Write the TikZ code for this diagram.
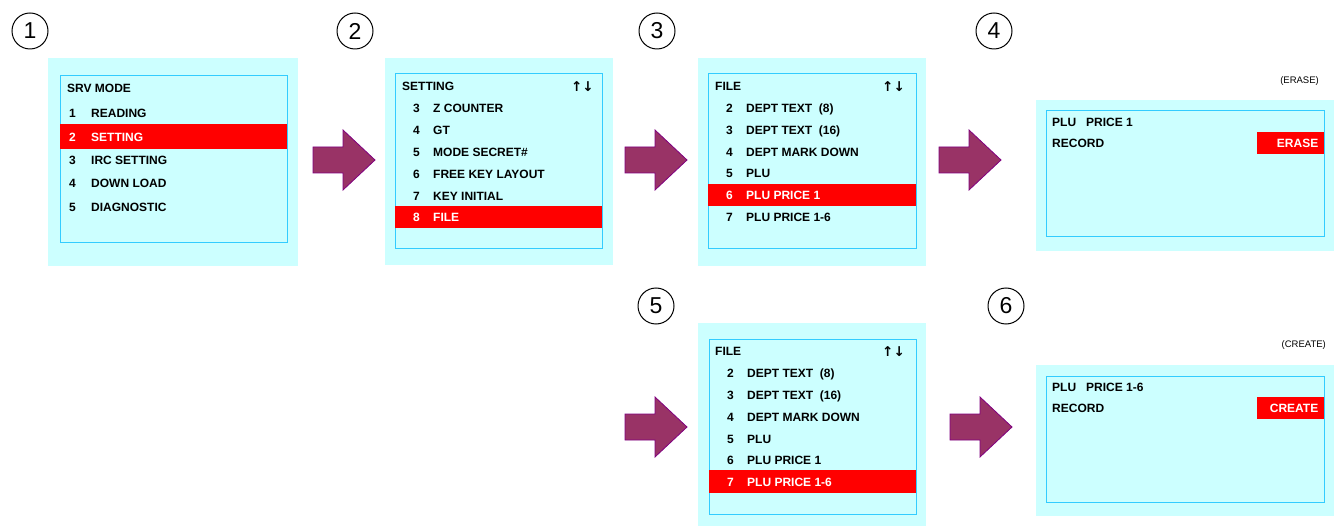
\documentclass[tikz,border=0pt]{standalone}
\usepackage{fontspec}
\setmainfont{Liberation Sans}
\newfontfamily\symfont{DejaVu Sans}
\usetikzlibrary{positioning}
\definecolor{scrbg}{HTML}{CCFFFF}
\definecolor{scrline}{HTML}{33CCFF}
\definecolor{selred}{HTML}{FF0000}
\definecolor{arrfill}{HTML}{993366}
\definecolor{arrline}{HTML}{800080}
\newcommand{\itm}[2]{\makebox[20pt][l]{#1}#2}
\tikzset{
  panel/.style={fill=scrbg, inner sep=0pt},
  screen/.style={draw=scrline, line width=1pt, fill=scrbg, inner sep=0pt},
  selbar/.style={fill=selred, inner sep=0pt},
  mtxt/.style={anchor=west, inner sep=0pt, text height=8.6pt, text depth=0pt,
               font=\bfseries\fontsize{12}{14}\selectfont},
  seltxt/.style={mtxt, text=white},
  updn/.style={anchor=east, inner sep=0pt, font=\symfont\bfseries\fontsize{13.5}{16}\selectfont},
  stepno/.style={draw, circle, line width=1pt, minimum size=36pt, inner sep=0pt,
                 font=\fontsize{23}{25}\selectfont},
  note/.style={anchor=east, inner sep=0pt, font=\fontsize{9.5}{11}\selectfont},
  btn/.style={fill=selred, text=white, anchor=east, minimum height=22pt, text width=55pt,
              align=right, inner xsep=6pt, inner ysep=0pt, font=\bfseries\fontsize{12}{14}\selectfont},
  fwdarr/.pic={\draw[fill=arrfill, draw=arrline, line width=0.8pt]
      (0,-13)--(30,-13)--(30,-30)--(62,0)--(30,30)--(30,13)--(0,13)--cycle;},
}

\begin{document}
\begin{tikzpicture}[x=1pt, y=-1pt]
  \useasboundingbox (0,0) rectangle (1340,526);

  % step numbers
  \node[stepno] (n1) at (30,31) {1};
  \node[stepno] (n2) at (355,31) {2};
  \node[stepno] (n3) at (657,31) {3};
  \node[stepno] (n4) at (994,31) {4};
  \node[stepno] (n5) at (656,306) {5};
  \node[stepno] (n6) at (1006,306) {6};

  % screen 1 - SRV MODE
  \node[panel, minimum width=250pt, minimum height=208pt] (p1) at (173,162) {};
  \node[screen, minimum width=227pt, minimum height=167pt] (s1) at (173.5,159.5) {};
  \node[selbar, minimum width=227pt, minimum height=25pt] (b1) at (173.5,136.5) {};
  \node[mtxt] (t1) at (67,88) {SRV MODE};
  \node[mtxt] (r11) at (69,113) {\makebox[22pt][l]{1}READING};
  \node[seltxt] (r12) at (69,137) {\makebox[22pt][l]{2}SETTING};
  \node[mtxt] (r13) at (69,160) {\makebox[22pt][l]{3}IRC SETTING};
  \node[mtxt] (r14) at (69,183) {\makebox[22pt][l]{4}DOWN LOAD};
  \node[mtxt] (r15) at (69,207) {\makebox[22pt][l]{5}DIAGNOSTIC};

  % screen 2 - SETTING
  \node[panel, minimum width=228pt, minimum height=207pt] (p2) at (499,161.5) {};
  \node[screen, minimum width=207pt, minimum height=175pt] (s2) at (498.5,161.5) {};
  \node[selbar, minimum width=207pt, minimum height=22pt] (b2) at (498.5,217) {};
  \node[mtxt] (t2) at (402,86) {SETTING};
  \node[updn] (u2) at (594,87) {↑↓};
  \node[mtxt] (r21) at (413,108) {\itm{3}{Z COUNTER}};
  \node[mtxt] (r22) at (413,130) {\itm{4}{GT}};
  \node[mtxt] (r23) at (413,152) {\itm{5}{MODE SECRET\#}};
  \node[mtxt] (r24) at (413,174) {\itm{6}{FREE KEY LAYOUT}};
  \node[mtxt] (r25) at (413,196) {\itm{7}{KEY INITIAL}};
  \node[seltxt] (r26) at (413,217) {\itm{8}{FILE}};

  % screen 3 - FILE
  \node[panel, minimum width=228pt, minimum height=208pt] (p3) at (812,162) {};
  \node[screen, minimum width=208pt, minimum height=175pt] (s3) at (812,161.5) {};
  \node[selbar, minimum width=208pt, minimum height=22pt] (b3) at (812,195) {};
  \node[mtxt] (t3) at (715,86) {FILE};
  \node[updn] (u3) at (905,87) {↑↓};
  \node[mtxt] (r31) at (726,108) {\itm{2}{DEPT TEXT\ \ (8)}};
  \node[mtxt] (r32) at (726,130) {\itm{3}{DEPT TEXT\ \ (16)}};
  \node[mtxt] (r33) at (726,152) {\itm{4}{DEPT MARK DOWN}};
  \node[mtxt] (r34) at (726,173) {\itm{5}{PLU}};
  \node[seltxt] (r35) at (726,195) {\itm{6}{PLU PRICE 1}};
  \node[mtxt] (r36) at (726,217) {\itm{7}{PLU PRICE 1-6}};

  % screen 4 - erase
  \node[note] (e4) at (1319,81) {(ERASE)};
  \node[panel, minimum width=298pt, minimum height=151pt] (p4) at (1185,175.5) {};
  \node[screen, minimum width=278pt, minimum height=126pt] (s4) at (1185,174) {};
  \node[mtxt] (r41) at (1052,122) {PLU\hspace{10pt}PRICE 1};
  \node[mtxt] (r42) at (1052,143) {RECORD};
  \node[btn] (k4) at (s4.east |- r42) {ERASE};

  % screen 5 - FILE
  \node[panel, minimum width=228pt, minimum height=203pt] (p5) at (812,424.5) {};
  \node[screen, minimum width=207pt, minimum height=175pt] (s5) at (812.5,426.5) {};
  \node[selbar, minimum width=207pt, minimum height=23pt] (b5) at (812.5,481.5) {};
  \node[mtxt] (t5) at (715,351) {FILE};
  \node[updn] (u5) at (905,352) {↑↓};
  \node[mtxt] (r51) at (727,373) {\itm{2}{DEPT TEXT\ \ (8)}};
  \node[mtxt] (r52) at (727,395) {\itm{3}{DEPT TEXT\ \ (16)}};
  \node[mtxt] (r53) at (727,417) {\itm{4}{DEPT MARK DOWN}};
  \node[mtxt] (r54) at (727,439) {\itm{5}{PLU}};
  \node[mtxt] (r55) at (727,460) {\itm{6}{PLU PRICE 1}};
  \node[seltxt] (r56) at (727,482) {\itm{7}{PLU PRICE 1-6}};

  % screen 6 - create
  \node[note] (e6) at (1326,345) {(CREATE)};
  \node[panel, minimum width=298pt, minimum height=151pt] (p6) at (1185,440.5) {};
  \node[screen, minimum width=278pt, minimum height=126pt] (s6) at (1185,439) {};
  \node[mtxt] (r61) at (1052,387) {PLU\hspace{10pt}PRICE 1-6};
  \node[mtxt] (r62) at (1052,408) {RECORD};
  \node[btn] (k6) at (s6.east |- r62) {CREATE};

  % block arrows
  \pic (a1) at (313,160) {fwdarr};
  \pic (a2) at (625,160) {fwdarr};
  \pic (a3) at (939,160) {fwdarr};
  \pic (a4) at (625,427) {fwdarr};
  \pic (a5) at (950,427) {fwdarr};
\end{tikzpicture}
\end{document}
